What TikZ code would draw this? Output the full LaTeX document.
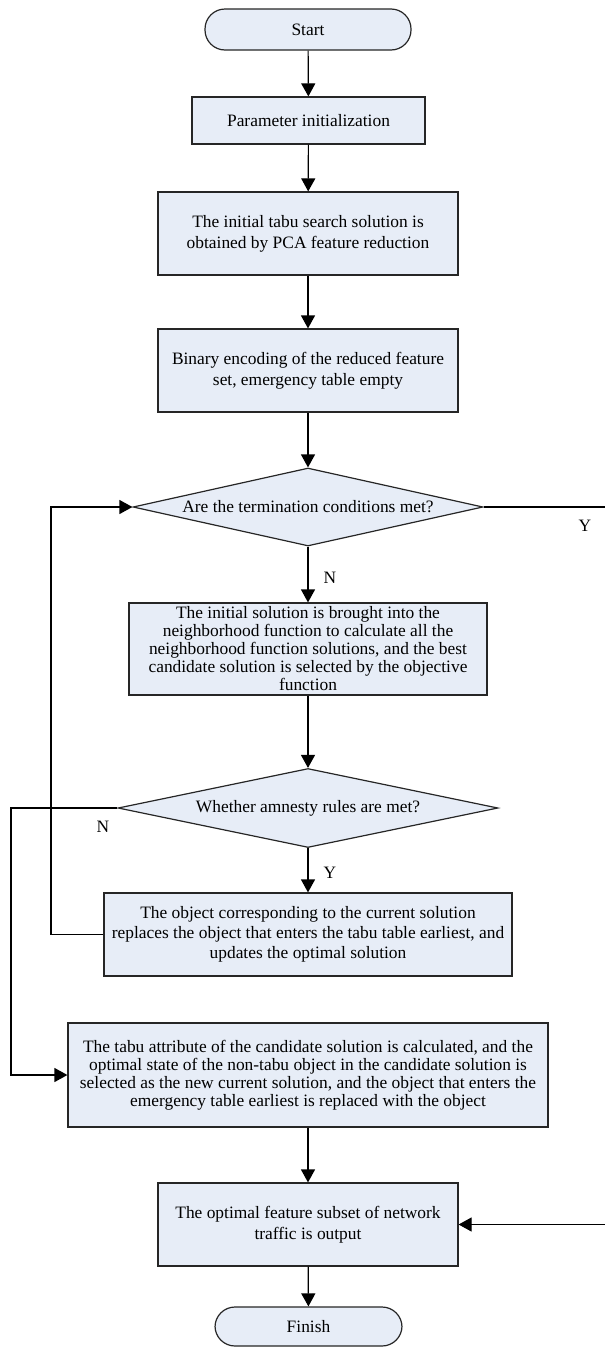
\documentclass[tikz,border=0pt]{standalone}
\usepackage{fontspec}
\setmainfont{Liberation Serif}
\usetikzlibrary{shapes.geometric,arrows.meta}
\definecolor{boxfill}{RGB}{231,237,247}
\tikzset{
  base/.style={draw=black!85,line width=1.2pt,fill=boxfill,align=center,
    font=\fontsize{17.4}{21}\selectfont,inner sep=2pt},
  proc/.style={base,rectangle},
  tight/.style={font=\fontsize{17.4}{18}\selectfont},
  term/.style={base,rectangle,rounded corners=20pt},
  decide/.style={base,diamond,aspect=4.5,inner sep=0pt},
  lbl/.style={font=\fontsize{17.4}{21}\selectfont,inner sep=0pt},
  arr/.style={line width=1.2pt,-{Triangle[length=13pt,width=14pt]}}
}
\begin{document}
\begin{tikzpicture}[x=1pt,y=-1pt]
 \useasboundingbox (0,0) rectangle (605,1347);
 \node[term,minimum width=206pt,minimum height=41pt] (start) at (308,29.5) {Start};
 \node[proc,minimum width=233pt,minimum height=47pt] (init) at (308.5,120.5) {Parameter initialization};
 \node[proc,minimum width=300pt,minimum height=83pt] (pca) at (308,233.5) {The initial tabu search solution is\\obtained by PCA feature reduction};
 \node[proc,minimum width=300pt,minimum height=83pt] (enc) at (308,370.5) {Binary encoding of the reduced feature\\set, emergency table empty};
 \node[decide,minimum width=350pt,minimum height=78pt] (stop) at (308,507) {Are the termination conditions met?};
 \node[proc,tight,minimum width=358pt,minimum height=92pt] (nbr) at (308,649) {The initial solution is brought into the\\neighborhood function to calculate all the\\neighborhood function solutions, and the best\\candidate solution is selected by the objective\\function};
 \node[decide,minimum width=380pt,minimum height=79pt] (amn) at (308,808) {Whether amnesty rules are met?};
 \node[proc,minimum width=408pt,minimum height=83pt,font=\fontsize{17.4}{20}\selectfont] (upd) at (308,934.5) {The object corresponding to the current solution\\replaces the object that enters the tabu table earliest, and\\updates the optimal solution};
 \node[proc,tight,minimum width=480pt,minimum height=104pt] (tabu) at (308,1075) {The tabu attribute of the candidate solution is calculated, and the\\optimal state of the non-tabu object in the candidate solution is\\selected as the new current solution, and the object that enters the\\emergency table earliest is replaced with the object};
 \node[proc,minimum width=300pt,minimum height=83pt] (out) at (308,1224.5) {The optimal feature subset of network\\traffic is output};
 \node[term,minimum width=187pt,minimum height=39pt] (finish) at (308.5,1326.5) {Finish};
 \node[lbl] (ny1) at (585,526) {Y};
 \node[lbl] (nn1) at (330,578) {N};
 \node[lbl] (nn2) at (103,827) {N};
 \node[lbl] (ny2) at (330,873) {Y};
 \coordinate (back) at (51,700);
 \coordinate (skip) at (11,950);
 \coordinate (done) at (608,900);
 \draw[arr] (start) -- (init);
 \draw[arr] (init) -- (pca);
 \draw[arr] (pca) -- (enc);
 \draw[arr] (enc) -- (stop);
 \draw[arr] (stop) -- (nbr);
 \draw[arr] (nbr) -- (amn);
 \draw[arr] (amn) -- (upd);
 \draw[arr] (upd.west) -| (back) |- (stop.west);
 \draw[arr] (amn.west) -| (skip) |- (tabu.west);
 \draw[arr] (tabu) -- (out);
 \draw[arr] (stop.east) -| (done) |- (out.east);
 \draw[arr] (out) -- (finish);
\end{tikzpicture}
\end{document}
